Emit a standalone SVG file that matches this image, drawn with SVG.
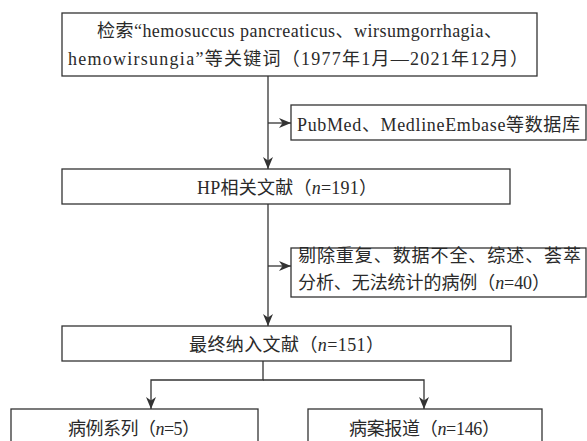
<svg xmlns="http://www.w3.org/2000/svg" width="587" height="441" viewBox="0 0 587 441">
<style>
.box{fill:#fff;stroke:#333;stroke-width:1.3}
.t{font-family:"Liberation Serif","Noto Sans CJK SC",serif;font-size:18px;fill:#2a2a2a}
.i{font-style:italic}
.c{fill:none;stroke:#333;stroke-width:1.3}
</style>
<defs>
<marker id="ah" markerUnits="userSpaceOnUse" viewBox="0 0 12 10" refX="12" refY="5" markerWidth="12" markerHeight="10" orient="auto">
<path d="M0,0 L12,5 L0,10 L3.5,5 Z" fill="#333"/>
</marker>
</defs>
<rect width="587" height="441" fill="#fff"/>
<g id="connectors">
<path class="c" d="M268,76 V169" marker-end="url(#ah)"/>
<path class="c" d="M268,123 H291" marker-end="url(#ah)"/>
<path class="c" d="M268,204 V326" marker-end="url(#ah)"/>
<path class="c" d="M268,266 H291" marker-end="url(#ah)"/>
<path class="c" d="M263,361 V380 H151 V409" marker-end="url(#ah)"/>
<path class="c" d="M263,380 H424 V409" marker-end="url(#ah)"/>
</g>
<g id="search">
<rect class="box" x="62" y="13" width="475" height="63"/>
<text class="t" x="97" y="37" textLength="405">检索“hemosuccus pancreaticus、wirsumgorrhagia、</text>
<text class="t" x="68" y="65" textLength="460">hemowirsungia”等关键词（1977年1月—2021年12月）</text>
</g>
<g id="databases">
<rect class="box" x="291" y="105" width="295" height="35"/>
<text class="t" x="297" y="131" textLength="283">PubMed、MedlineEmbase等数据库</text>
</g>
<g id="hp">
<rect class="box" x="62" y="169" width="448" height="35"/>
<text class="t" x="197" y="194" textLength="180">HP相关文献（<tspan class="i">n</tspan>=191）</text>
</g>
<g id="exclude">
<rect class="box" x="291" y="248" width="295" height="49"/>
<text class="t" x="298" y="262" textLength="283">剔除重复、数据不全、综述、荟萃</text>
<text class="t" x="298" y="289" textLength="252">分析、无法统计的病例（<tspan class="i">n</tspan>=40）</text>
</g>
<g id="final">
<rect class="box" x="62" y="326" width="449" height="35"/>
<text class="t" x="189" y="351" textLength="195">最终纳入文献（<tspan class="i">n</tspan>=151）</text>
</g>
<g id="series">
<rect class="box" x="11" y="409" width="247" height="40"/>
<text class="t" x="68" y="435" textLength="132">病例系列（<tspan class="i">n</tspan>=5）</text>
</g>
<g id="reports">
<rect class="box" x="308" y="409" width="234" height="40"/>
<text class="t" x="349" y="435" textLength="151">病案报道（<tspan class="i">n</tspan>=146）</text>
</g>
</svg>
